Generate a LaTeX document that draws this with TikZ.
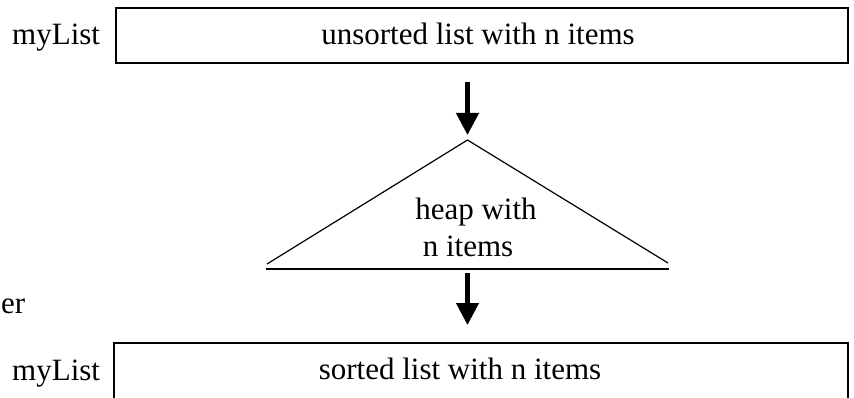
\documentclass[tikz,border=0pt]{standalone}
\usepackage{fontspec}
\setmainfont{Liberation Serif}
\usetikzlibrary{arrows.meta,calc}
\begin{document}
\begin{tikzpicture}[x=1pt,y=-1pt,
  txt/.style={font=\fontsize{31}{38}\selectfont, inner sep=0pt, anchor=base},
  listbox/.style={draw, line width=1.5pt, inner sep=0pt},
  bigarrow/.style={line width=4.5pt, -{Triangle[length=22pt,width=22pt]}},
  heapline/.style={line width=1.2pt}]
  \useasboundingbox (0,0) rectangle (854,398);
  \fill[white] (0,0) rectangle (854,398);
  % top list
  \node[listbox, minimum width=732pt, minimum height=55pt] (top) at (482,35.5) {};
  \node[txt] (toptxt) at (478,45) {unsorted list with n items};
  \node[txt, anchor=base west] (toplbl) at (12,45) {myList};
  % heap triangle
  \coordinate (apex) at (467.5,140);
  \coordinate (bl) at (267,264);
  \coordinate (br) at (668,263);
  \coordinate (basel) at (266,269);
  \coordinate (baser) at (669,269);
  \draw[heapline] (bl) -- (apex) -- (br);
  \draw[heapline] (basel) -- (baser);
  \node[txt] (heap1) at (476,219) {heap with};
  \node[txt] (heap2) at (468,257) {n items};
  % bottom list (bottom edge below the page)
  \node[listbox, minimum width=734pt, minimum height=120pt, anchor=north] (bot) at (481,342) {};
  \node[txt] (bottxt) at (460,379) {sorted list with n items};
  \node[txt, anchor=base west] (botlbl) at (12,380) {myList};
  \node[txt, anchor=base west] (er) at (1,313) {er};
  % arrows
  \draw[bigarrow, shorten <=18pt, shorten >=5pt] (apex |- top.south) -- (apex);
  \draw[bigarrow, shorten <=4pt, shorten >=17pt] (apex |- basel) -- (apex |- bot.north);
\end{tikzpicture}
\end{document}
